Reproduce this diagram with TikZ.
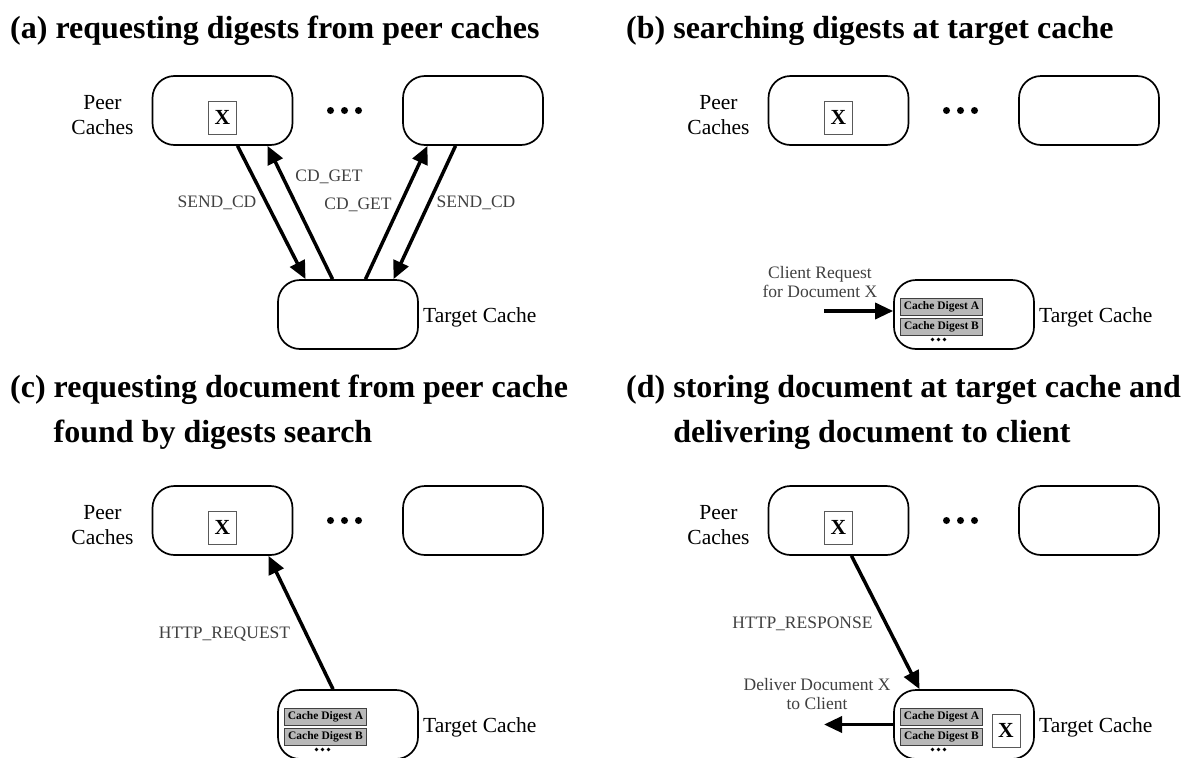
\documentclass[tikz,border=0pt]{standalone}
\usepackage{fontspec}
\setmainfont{Liberation Serif}
\usetikzlibrary{arrows.meta,calc}
\tikzset{
  cachebox/.style={draw, line width=1.7pt, rounded corners=22pt, minimum width=140pt, minimum height=69pt, inner sep=0pt},
  xbox/.style={draw=black!65, line width=0.8pt, minimum width=28pt, minimum height=33pt, inner sep=0pt, font=\fontsize{21.5}{24}\selectfont\bfseries},
  digest/.style={draw=black!75, fill=black!28, line width=0.8pt, minimum width=82pt, minimum height=17pt, inner sep=0pt, font=\fontsize{11.5}{13}\selectfont\bfseries},
  lbl/.style={font=\fontsize{21.5}{25}\selectfont, inner sep=0pt},
  albl/.style={font=\fontsize{17.5}{19.5}\selectfont, inner sep=0pt, text=black!75},
  ttl/.style={font=\fontsize{32}{40}\selectfont\bfseries, inner sep=0pt, anchor=base west},
  arr/.style={line width=3.5pt, -{Triangle[length=18pt,width=16pt]}},
  bigdot/.style={fill, circle, inner sep=0pt, minimum size=7pt},
  smalldot/.style={fill, circle, inner sep=0pt, minimum size=3.8pt},
}
\newcommand\peerrow[3]{%
  \node[lbl,align=center] (#1lab) at (102.5+#2,115.5+#3) {Peer\\Caches};
  \node[cachebox] (#1p1) at (222.5+#2,110.5+#3) {};
  \node[xbox] (#1x) at (222.5+#2,117.5+#3) {X};
  \node[bigdot] (#1da) at (330.5+#2,110.5+#3) {};
  \node[bigdot] (#1db) at (344.5+#2,110.5+#3) {};
  \node[bigdot] (#1dc) at (358.5+#2,110.5+#3) {};
  \node[cachebox] (#1p2) at (473+#2,110.5+#3) {};
}
\newcommand\targetbox[3]{%
  \node[cachebox] (#1t) at (348+#2,314.5+#3) {};
  \node[lbl,anchor=base west] (#1tl) at (423+#2,322+#3) {Target Cache};
}
\newcommand\digests[3]{%
  \node[digest] (#1dA) at (325.5+#2,306.5+#3) {Cache Digest A};
  \node[digest] (#1dB) at (325.5+#2,326.5+#3) {Cache Digest B};
  \node[smalldot] (#1sa) at (316.5+#2,339.5+#3) {};
  \node[smalldot] (#1sb) at (322.5+#2,339.5+#3) {};
  \node[smalldot] (#1sc) at (328.5+#2,339.5+#3) {};
}
\begin{document}
\begin{tikzpicture}[x=1pt,y=-1pt]
\useasboundingbox (0,0) rectangle (1184,758);
% titles
\node[ttl] (ta) at (10,38) {(a) requesting digests from peer caches};
\node[ttl] (tb) at (626,38) {(b) searching digests at target cache};
\node[ttl] (tc1) at (10,397) {(c) requesting document from peer cache};
\node[ttl] (tc2) at (10,442) {\hphantom{(c) }found by digests search};
\node[ttl] (td1) at (626,397) {(d) storing document at target cache and};
\node[ttl] (td2) at (626,442) {\hphantom{(d) }delivering document to client};

% panel (a)
\peerrow{a}{0}{0}
\targetbox{a}{0}{0}
\draw[arr] ($(ap1.south)+(15,0)$) -- ($(at.north)+(-42.5,0)$);
\draw[arr] ($(at.north)+(-15.5,0)$) -- ($(ap1.south)+(45,0)$);
\draw[arr] ($(at.north)+(17.5,0)$) -- ($(ap2.south)+(-45.5,0)$);
\draw[arr] ($(ap2.south)+(-17.5,0)$) -- ($(at.north)+(45.5,0)$);
\node[albl] (asl) at (217,203) {SEND\_CD};
\node[albl] (agl) at (329,177) {CD\_GET};
\node[albl] (agr) at (358,205) {CD\_GET};
\node[albl] (asr) at (476,203) {SEND\_CD};

% panel (b)
\peerrow{b}{616}{0}
\targetbox{b}{616}{0}
\digests{b}{616}{0}
\node[albl,align=center] (bcrl) at (820,282) {Client Request\\for Document X};
\coordinate (bcr) at (824,311);
\draw[arr] (bcr) -- (bcr -| bt.west);

% panel (c)
\peerrow{c}{0}{410}
\targetbox{c}{0}{410}
\digests{c}{0}{410}
\draw[arr] ($(ct.north)+(-15,0)$) -- ($(cp1.south)+(46,0)$);
\node[albl] (chr) at (224.5,634) {HTTP\_REQUEST};

% panel (d)
\peerrow{d}{616}{410}
\targetbox{d}{616}{410}
\digests{d}{616}{410}
\node[xbox] (dtx) at (1006,730.5) {X};
\draw[arr] ($(dp1.south)+(13,0)$) -- ($(dt.north)+(-44.5,0)$);
\node[albl] (dhr) at (802.5,624) {HTTP\_RESPONSE};
\node[albl,align=center] (ddl) at (817,694) {Deliver Document X\\to Client};
\coordinate (dcl) at (824,724.5);
\draw[arr] (dt.west) -- (dcl);
\end{tikzpicture}
\end{document}
